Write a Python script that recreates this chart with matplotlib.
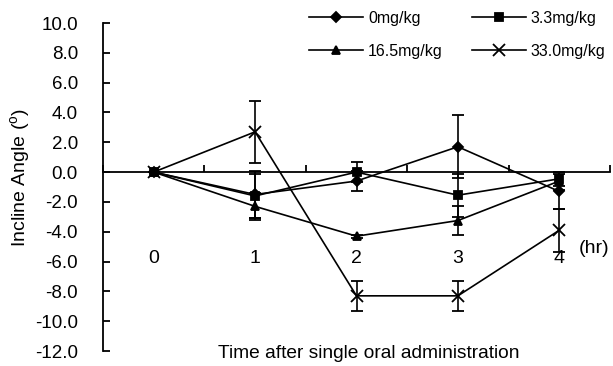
import matplotlib
matplotlib.use("Agg")
import matplotlib.pyplot as plt

plt.rcParams['font.family'] = ['Liberation Sans', 'DejaVu Sans']
plt.rcParams['mathtext.fontset'] = 'custom'
plt.rcParams['mathtext.rm'] = 'Liberation Sans'

# ------------------------------------------------------------
# Data (mean +/- SD, degrees)
# ------------------------------------------------------------
hours = [0, 1, 2, 3, 4]
hour_labels = ['0', '1', '2', '3', '4']

dose_labels = ['0mg/kg', '3.3mg/kg', '16.5mg/kg', '33.0mg/kg']
mean_0 = [0.0, -1.5, -0.6, 1.7, -1.3]
sd_0 = [0.0, 1.6, 0.65, 2.1, 1.2]
mean_33 = [0.0, -1.6, 0.0, -1.55, -0.45]
sd_33 = [0.0, 1.5, 0.65, 1.45, 0.45]
mean_165 = [0.0, -2.3, -4.3, -3.25, -0.6]
sd_165 = [0.0, 0.9, 0.1, 1.0, 0.6]
mean_330 = [0.0, 2.7, -8.3, -8.3, -3.9]
sd_330 = [0.0, 2.1, 1.0, 1.0, 1.45]

y_ticks = [10, 8, 6, 4, 2, 0, -2, -4, -6, -8, -10, -12]

# ------------------------------------------------------------
fig = plt.figure(figsize=(6.13, 3.66), dpi=100)
ax = fig.add_axes([103 / 613, 1 - 351 / 366, (610 - 103) / 613, (351 - 23) / 366])

series = [
    (mean_0, sd_0, 'D', 5),
    (mean_33, sd_33, 's', 6),
    (mean_165, sd_165, '^', 6),
    (mean_330, sd_330, 'x', 9),
]
handles = []
for (m, s, mk, ms), lab in zip(series, dose_labels):
    cont = ax.errorbar(hours, m, yerr=s, color='black', lw=1.2, marker=mk,
                       markersize=ms, markeredgewidth=1.3, capsize=4.5,
                       capthick=1.3, elinewidth=1.2, label=lab)
    handles.append(cont[0])

ax.set_xlim(-0.5, 4.5)
ax.set_ylim(-12, 10)

# y axis
ax.spines['right'].set_visible(False)
ax.spines['top'].set_visible(False)
ax.spines['left'].set_linewidth(1.3)
ax.set_yticks(y_ticks)
ax.set_yticklabels([f"{v:.1f}" for v in y_ticks])
ax.tick_params(axis='y', direction='in', length=5, width=1.3, pad=18,
               labelsize=13.5)

# x axis crosses at zero, ticks between categories
ax.spines['bottom'].set_position(('data', 0))
ax.spines['bottom'].set_linewidth(1.3)
ax.set_xticks([-0.5, 0.5, 1.5, 2.5, 3.5, 4.5])
ax.set_xticklabels([])
ax.tick_params(axis='x', direction='in', length=5, width=1.3)
for h, t in zip(hours, hour_labels):
    ax.text(h, -5.8, t, ha='center', va='center', fontsize=14)
ax.text(4.19, -5.1, '(hr)', ha='left', va='center', fontsize=14)

fig.text(369 / 613, 1 - 353 / 366, 'Time after single oral administration',
         ha='center', va='center', fontsize=13.8)
fig.text(21 / 613, 1 - 177 / 366, r'Incline Angle ($^{\rm o}$)',
         ha='center', va='center', rotation=90, fontsize=14)

# legend filled row by row: 0 / 3.3 on top, 16.5 / 33.0 below
order = [0, 2, 1, 3]
fig.legend([handles[i] for i in order], [dose_labels[i] for i in order],
           loc='upper left', bbox_to_anchor=(309 / 613, 1 - 11 / 366),
           ncol=2, frameon=False, fontsize=11.5, handlelength=3.4,
           handletextpad=0.3, columnspacing=1.8, labelspacing=1.1,
           borderpad=0, borderaxespad=0, numpoints=1)

fig.savefig("out.png", dpi=100)
